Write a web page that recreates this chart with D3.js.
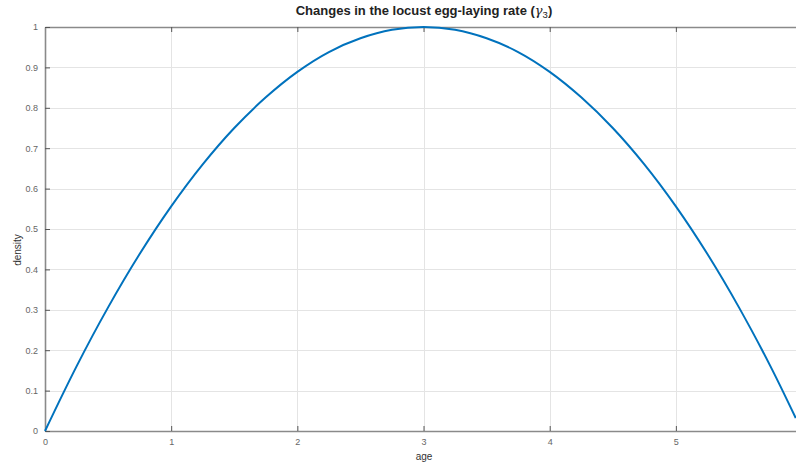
<!DOCTYPE html>
<html>
<head>
<meta charset="utf-8">
<script src="https://cdn.jsdelivr.net/npm/d3@7"></script>
<style>
  html, body { margin: 0; padding: 0; background: #fff; }
  svg { display: block; font-family: "Liberation Sans", Arial, sans-serif; }
</style>
</head>
<body>
<svg id="chart" width="796" height="465"></svg>
<script>
// Egg-laying rate by age
const ages = [0, 0.25, 0.5, 0.75, 1, 1.25, 1.5, 1.75, 2, 2.25, 2.5, 2.75, 3,
              3.25, 3.5, 3.75, 4, 4.25, 4.5, 4.75, 5, 5.25, 5.5, 5.75, 5.95];
const density = [0, 0.160, 0.306, 0.438, 0.556, 0.660, 0.750, 0.826, 0.889, 0.938, 0.972, 0.993, 1.0,
                 0.993, 0.972, 0.938, 0.889, 0.826, 0.750, 0.660, 0.556, 0.438, 0.306, 0.160, 0.032];
const xTicks = [0, 1, 2, 3, 4, 5];
const yTicks = [0, 0.1, 0.2, 0.3, 0.4, 0.5, 0.6, 0.7, 0.8, 0.9, 1];

const svg = d3.select("#chart");
const plotLeft = 45, plotRight = 797, plotTop = 27, plotBottom = 431;

const x = d3.scaleLinear().domain([0, 5.96]).range([plotLeft, plotRight]);
const y = d3.scaleLinear().domain([0, 1]).range([plotBottom, plotTop]);

// grid
const grid = svg.append("g").attr("stroke", "#e4e4e4").attr("stroke-width", 1);
grid.selectAll(".gx").data(xTicks.slice(1)).join("line")
  .attr("x1", d => Math.round(x(d)) + 0.5).attr("x2", d => Math.round(x(d)) + 0.5)
  .attr("y1", plotTop).attr("y2", plotBottom);
grid.selectAll(".gy").data(yTicks.slice(1, -1)).join("line")
  .attr("y1", d => Math.round(y(d)) + 0.5).attr("y2", d => Math.round(y(d)) + 0.5)
  .attr("x1", plotLeft).attr("x2", plotRight);

// axes
const axColor = "#8a8a8a";
const xAxis = d3.axisBottom(x).tickValues(xTicks).tickFormat(d3.format("d")).tickSizeInner(-5).tickSizeOuter(0).tickPadding(8);
const yAxis = d3.axisLeft(y).tickValues(yTicks).tickFormat(d => d3.format("~g")(d)).tickSizeInner(-5).tickSizeOuter(0).tickPadding(7);
const xTop = d3.axisTop(x).tickValues(xTicks).tickFormat("").tickSizeInner(-5).tickSizeOuter(0);

function styleAxis(g) {
  g.select(".domain").attr("stroke", axColor).attr("stroke-width", 1.6);
  g.selectAll(".tick line").attr("stroke", "#555").attr("stroke-width", 1);
  g.selectAll(".tick text").attr("fill", "#666").style("font-size", "9px")
    .style("font-family", "\"Liberation Sans\", Arial, sans-serif");
}

svg.append("g").attr("transform", `translate(0,${plotBottom})`).call(xAxis).call(styleAxis);
svg.append("g").attr("transform", `translate(0,${plotTop})`).call(xTop).call(styleAxis);
svg.append("g").attr("transform", `translate(${plotLeft},0)`).call(yAxis).call(styleAxis);

// curve
const line = d3.line().x((d, i) => x(ages[i])).y(d => y(d)).curve(d3.curveCatmullRom);
svg.append("path").datum(density)
  .attr("d", line)
  .attr("fill", "none")
  .attr("stroke", "#0072BD")
  .attr("stroke-width", 2);

// title
const title = svg.append("text")
  .attr("x", 424).attr("y", 15)
  .attr("text-anchor", "middle")
  .attr("fill", "#222")
  .style("font-size", "13px").style("font-weight", "bold");
title.append("tspan").text("Changes in the locust egg-laying rate (");
title.append("tspan").text("γ").style("font-weight", "normal").style("font-style", "italic").style("font-family", "\"DejaVu Serif\", serif");
title.append("tspan").text("3").attr("dy", 3).style("font-size", "9.5px").style("font-weight", "normal");
title.append("tspan").text(")").attr("dy", -3);

// axis labels
svg.append("text").attr("x", 424).attr("y", 460).attr("text-anchor", "middle")
  .attr("fill", "#333").style("font-size", "10px").text("age");
svg.append("text").attr("transform", "translate(21,250) rotate(-90)").attr("text-anchor", "middle")
  .attr("fill", "#333").style("font-size", "10px").text("density");
</script>
</body>
</html>
